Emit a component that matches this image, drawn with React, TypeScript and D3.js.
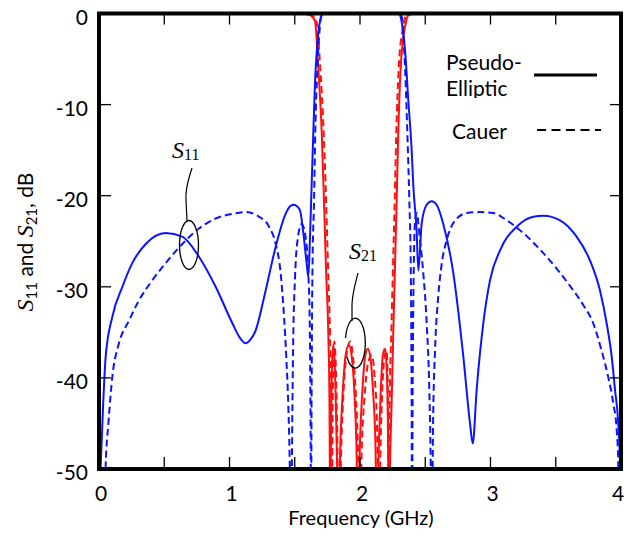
import React from "react";
import * as d3 from "d3";

type P = [number, number];

// x: frequency (GHz), y: dB
const xTicks = [0, 0.5, 1, 1.5, 2, 2.5, 3, 3.5, 4];
const xLabels = [0, 1, 2, 3, 4];
const yTicks = [0, -10, -20, -30, -40, -50];

// S11 pseudo-elliptic (blue solid)
const s11Pseudo: P[] = [
  [0.0, -56], [0.013, -49.7], [0.031, -43.2], [0.051, -37.7], [0.102, -33.3], [0.179, -30.0],
  [0.255, -27.4], [0.358, -25.3], [0.511, -24.1], [0.638, -24.5], [0.766, -26.7], [0.894, -30.0],
  [1.022, -34.0], [1.08, -35.6], [1.124, -36.2], [1.16, -35.8], [1.2, -34.8], [1.277, -30.4],
  [1.354, -25.6], [1.43, -22.0], [1.47, -21.1], [1.494, -21.0], [1.52, -21.2], [1.54, -21.6],
  [1.566, -24.1], [1.591, -27.4], [1.604, -28.9], [1.617, -24.5], [1.63, -18.6], [1.642, -13.2],
  [1.655, -7.7], [1.68, -2.2], [1.707, -0.2], [1.72, 0], [2.29, 0], [2.307, -0.2], [2.33, -2],
  [2.345, -4], [2.37, -9.5], [2.396, -15], [2.409, -19], [2.434, -23.9], [2.447, -28.2],
  [2.473, -23], [2.511, -21], [2.549, -20.6], [2.587, -21], [2.638, -23.1], [2.715, -28.5],
  [2.792, -37.7], [2.843, -45], [2.864, -47.2], [2.894, -41.3], [2.945, -34.0], [2.996, -29.3],
  [3.073, -26], [3.201, -23.4], [3.328, -22.3], [3.405, -22.2], [3.533, -22.7], [3.66, -24.5],
  [3.762, -27.1], [3.839, -30.4], [3.89, -34], [3.929, -37.7], [3.954, -41.3], [3.979, -45],
  [3.992, -49.3], [4.0, -56],
];

// S11 Cauer (blue dashed)
const s11Cauer: P[] = [
  [0.04, -56], [0.051, -49.7], [0.072, -45], [0.102, -39.9], [0.153, -36.2], [0.23, -33.7],
  [0.306, -31.5], [0.408, -29.3], [0.511, -27.4], [0.638, -25.3], [0.766, -23.6], [0.894, -22.5],
  [1.022, -22.0], [1.124, -21.8], [1.226, -22.3], [1.303, -23.4], [1.354, -25.3], [1.392, -28.5],
  [1.418, -33.3], [1.435, -37.7], [1.451, -43.2], [1.462, -49.7], [1.468, -56],
  [1.474, -56], [1.479, -48], [1.486, -38], [1.502, -29], [1.525, -24.5], [1.553, -23.1],
  [1.578, -24.1], [1.604, -28.5], [1.615, -34], [1.621, -45], [1.625, -56],
  [1.629, -42], [1.636, -27.8], [1.648, -20.5], [1.657, -13.2], [1.674, -5.9], [1.692, -1.5],
  [1.703, -0.2], [1.72, 0], [2.29, 0], [2.319, -0.3], [2.345, -5.9], [2.363, -13.2],
  [2.378, -20.5], [2.389, -27.8], [2.395, -40], [2.399, -56], [2.404, -40], [2.412, -28],
  [2.421, -23], [2.434, -21.9], [2.46, -24.9], [2.485, -28.5], [2.511, -34], [2.531, -41.3],
  [2.542, -49.8], [2.546, -56], [2.552, -56], [2.56, -45], [2.575, -37], [2.6, -31],
  [2.626, -27.5], [2.664, -24.9], [2.715, -23], [2.818, -21.9], [2.92, -21.8], [3.021, -21.9],
  [3.124, -22.7], [3.251, -24.1], [3.379, -25.9], [3.507, -28.0], [3.609, -29.9], [3.711, -32.0],
  [3.787, -34], [3.851, -37], [3.902, -39.9], [3.941, -42.8], [3.967, -45.7], [3.979, -49.3],
  [3.986, -56],
];

// S21 pseudo-elliptic (red solid)
const s21Pseudo: P[] = [
  [0, 0], [1.55, 0], [1.62, -0.2], [1.655, -0.8], [1.68, -5.9], [1.707, -13.2], [1.724, -20.5],
  [1.739, -27.8], [1.757, -35.1], [1.766, -42.4], [1.772, -56], [1.778, -45], [1.785, -39],
  [1.795, -36.4], [1.805, -38], [1.815, -43], [1.825, -50], [1.835, -56], [1.85, -47],
  [1.87, -41], [1.89, -37.5], [1.915, -36.4], [1.935, -37.5], [1.955, -41], [1.972, -47],
  [1.985, -56], [2.0, -47], [2.02, -41], [2.04, -37.6], [2.06, -36.8], [2.08, -37.8],
  [2.1, -41.5], [2.118, -47], [2.13, -56], [2.145, -47], [2.16, -41], [2.175, -37.5],
  [2.192, -36.8], [2.203, -38.5], [2.213, -44], [2.222, -56], [2.232, -48], [2.243, -42.4],
  [2.255, -35], [2.268, -27.8], [2.281, -20.5], [2.293, -13.2], [2.312, -5.9], [2.345, -1.5],
  [2.37, -0.2], [2.42, 0], [4, 0],
];

// S21 Cauer (red dashed)
const s21Cauer: P[] = [
  [0, 0], [1.55, 0], [1.63, -0.2], [1.665, -0.8], [1.695, -5.9], [1.722, -13.2], [1.74, -20.5],
  [1.755, -27.8], [1.77, -35.1], [1.779, -42.4], [1.785, -56], [1.79, -44], [1.796, -38.5],
  [1.804, -36.0], [1.813, -38], [1.823, -44], [1.838, -56], [1.86, -46], [1.88, -40],
  [1.905, -36.8], [1.925, -36.0], [1.945, -37.5], [1.965, -41], [1.985, -48], [1.998, -56],
  [2.015, -47], [2.035, -42], [2.06, -38.5], [2.09, -37.5], [2.11, -39.5], [2.13, -45],
  [2.145, -56], [2.16, -46], [2.175, -40], [2.19, -37.5], [2.203, -37], [2.212, -40],
  [2.22, -56], [2.228, -42.4], [2.24, -35], [2.253, -27.8], [2.266, -20.5], [2.278, -13.2],
  [2.297, -5.9], [2.33, -1.5], [2.355, -0.2], [2.4, 0], [4, 0],
];

const SANS = "Lato, 'Open Sans', sans-serif";
const SERIF = "'Liberation Serif', 'DejaVu Serif', serif";

export default function App() {
  const W = 624;
  const H = 537;
  const x = d3.scaleLinear().domain([0, 4]).range([99, 621]);
  const y = d3.scaleLinear().domain([-50, 0]).range([469, 13.5]);
  const line = d3
    .line<P>()
    .x((d) => x(d[0]))
    .y((d) => y(d[1]))
    .curve(d3.curveMonotoneX);

  const blue = "#0a14ff";
  const red = "#ff1010";
  const x0 = x(0), x1 = x(4), yTop = y(0), yBot = y(-50);

  return (
    <svg
      width={W}
      height={H}
      style={{ position: "absolute", left: 0, top: 0, background: "#fff" }}
      fontFamily={SANS}
    >
      <defs>
        <clipPath id="plot">
          <rect x={x0} y={yTop} width={x1 - x0} height={yBot - yTop} />
        </clipPath>
        <clipPath id="ell">
          <rect x={430} y={40} width={120} height={58} />
        </clipPath>
      </defs>
      <rect x={0} y={0} width={W} height={H} fill="#fff" />

      <g clipPath="url(#plot)" fill="none" strokeLinejoin="round">
        <path d={line(s21Cauer) || ""} stroke={red} strokeWidth={2} strokeDasharray="7,4" />
        <path d={line(s21Pseudo) || ""} stroke={red} strokeWidth={2} />
        <path d={line(s11Cauer) || ""} stroke={blue} strokeWidth={2} strokeDasharray="7,4" />
        <path d={line(s11Pseudo) || ""} stroke={blue} strokeWidth={2} />
      </g>

      {/* ticks */}
      <g stroke="#000" strokeWidth={1.3}>
        {xTicks.map((t) => (
          <g key={"xt" + t}>
            <line x1={x(t)} x2={x(t)} y1={yBot} y2={yBot - 12} />
            <line x1={x(t)} x2={x(t)} y1={yTop} y2={yTop + 11} />
          </g>
        ))}
        {yTicks.map((t) => (
          <g key={"yt" + t}>
            <line x1={x0} x2={x0 + 12} y1={y(t)} y2={y(t)} />
            <line x1={x1} x2={x1 - 11} y1={y(t)} y2={y(t)} />
          </g>
        ))}
      </g>
      <rect x={x0} y={yTop} width={x1 - x0} height={yBot - yTop} fill="none" stroke="#000" strokeWidth={4} />

      {/* tick labels */}
      <g fontSize={21} fill="#000">
        {xLabels.map((t) => (
          <text key={"xl" + t} x={t === 4 ? x(t) - 3 : x(t) + 2} y={501} textAnchor="middle">
            {t}
          </text>
        ))}
        {yTicks.map((t) => (
          <text key={"yl" + t} x={88} y={y(t) + 11} textAnchor="end">
            {t}
          </text>
        ))}
      </g>

      <text x={361} y={525} textAnchor="middle" fontSize={20}>
        Frequency (GHz)
      </text>

      <text transform="translate(33,242) rotate(-90)" textAnchor="middle" fontSize={21}>
        <tspan fontFamily={SERIF} fontStyle="italic" fontSize={24}>S</tspan>
        <tspan fontSize={15} dy={4}>11</tspan>
        <tspan dy={-4}> and </tspan>
        <tspan fontFamily={SERIF} fontStyle="italic" fontSize={24}>S</tspan>
        <tspan fontSize={15} dy={4}>21</tspan>
        <tspan dy={-4}>, dB</tspan>
      </text>

      {/* legend */}
      <text x={446} y={70} fontSize={21}>Pseudo-</text>
      <text x={446} y={96} fontSize={21} clipPath="url(#ell)">Elliptic</text>
      <line x1={534} x2={597} y1={75} y2={75} stroke="#000" strokeWidth={3} />
      <text x={452} y={139} fontSize={21}>Cauer</text>
      <line x1={537} x2={601} y1={130} y2={130} stroke="#000" strokeWidth={2.2} strokeDasharray="9,5.5" />

      {/* annotations */}
      <text x={172} y={158} fontFamily={SERIF} fontSize={24}>
        <tspan fontStyle="italic">S</tspan>
        <tspan fontSize={16} dy={2}>11</tspan>
      </text>
      <path d="M192,168 C189,178 185,188 186,200 L187,221" fill="none" stroke="#000" strokeWidth={1.2} />
      <ellipse cx={189} cy={245} rx={9.5} ry={24.5} fill="none" stroke="#000" strokeWidth={1.3} />

      <text x={349} y={259} fontFamily={SERIF} fontSize={24}>
        <tspan fontStyle="italic">S</tspan>
        <tspan fontSize={16} dy={2}>21</tspan>
      </text>
      <path d="M358,273 C355,285 352,295 352,305 L352,321" fill="none" stroke="#000" strokeWidth={1.2} />
      <path d="M345.5,338 A10,25 0 1,1 347,357" fill="none" stroke="#000" strokeWidth={1.3} />
    </svg>
  );
}
